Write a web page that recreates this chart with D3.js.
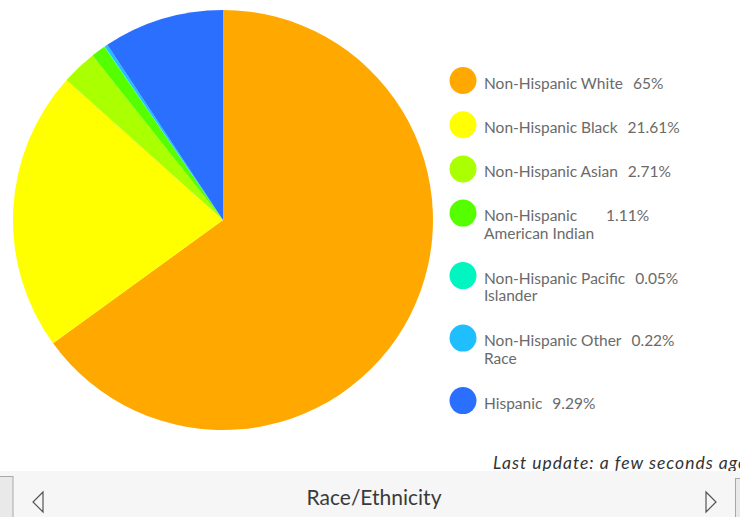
<!DOCTYPE html>
<html>
<head>
<meta charset="utf-8">
<script src="https://cdn.jsdelivr.net/npm/d3@7"></script>
<style>
  html, body { margin: 0; padding: 0; background: #fff; overflow: hidden; }
  svg { display: block; font-family: Lato, "Open Sans", sans-serif; }
</style>
</head>
<body>
<svg id="chart" width="740" height="517"></svg>
<script>
// Population share by race/ethnicity (percent)
const categories = [
  "Non-Hispanic White",
  "Non-Hispanic Black",
  "Non-Hispanic Asian",
  "Non-Hispanic American Indian",
  "Non-Hispanic Pacific Islander",
  "Non-Hispanic Other Race",
  "Hispanic"
];
const values = [65, 21.61, 2.71, 1.11, 0.05, 0.22, 9.29];
const valueLabels = ["65%", "21.61%", "2.71%", "1.11%", "0.05%", "0.22%", "9.29%"];
// how each legend name breaks onto lines
const legendLines = [
  ["Non-Hispanic White"],
  ["Non-Hispanic Black"],
  ["Non-Hispanic Asian"],
  ["Non-Hispanic", "American Indian"],
  ["Non-Hispanic Pacific", "Islander"],
  ["Non-Hispanic Other", "Race"],
  ["Hispanic"]
];
const colors = ["#FFA800", "#FFFF00", "#AAFF00", "#55FF00", "#00F5C0", "#1EBEFF", "#2B6FFF"];
const footerTitle = "Race/Ethnicity";
const updateText = "Last update: a few seconds ago";

const svg = d3.select("#chart");
const color = d3.scaleOrdinal().domain(categories).range(colors);

// ---- pie ----
const cx = 223, cy = 220, radius = 210;
const pie = d3.pie().value(d => d.value).sort(null);
const arc = d3.arc().innerRadius(0).outerRadius(radius);
const data = categories.map((c, i) => ({ name: c, value: values[i] }));

svg.append("g")
  .attr("transform", `translate(${cx},${cy})`)
  .selectAll("path")
  .data(pie(data))
  .join("path")
  .attr("d", arc)
  .attr("fill", d => color(d.data.name));

// ---- legend ----
const legend = svg.append("g").attr("class", "legend");
const lx = 463, tx = 484, lineH = 17.5, gap = 10, wrapLabelW = 112;
let rowY = 80.5;
categories.forEach((c, i) => {
  const g = legend.append("g");
  g.append("circle")
    .attr("cx", lx).attr("cy", rowY).attr("r", 13.5)
    .attr("fill", color(c));
  const t = g.append("text")
    .attr("x", tx).attr("y", rowY + 8)
    .attr("fill", "#6a6a6a")
    .style("font-size", "15.5px");
  legendLines[i].forEach((ln, j) => {
    t.append("tspan").attr("x", tx).attr("dy", j === 0 ? 0 : lineH).text(ln);
  });
  const wrapped = legendLines[i].length > 1;
  const first = t.select("tspan").node().getComputedTextLength();
  const labelW = wrapped ? Math.max(first, wrapLabelW) : first;
  g.append("text")
    .attr("x", tx + labelW + gap)
    .attr("y", rowY + 8)
    .attr("fill", "#6a6a6a")
    .style("font-size", "15.5px")
    .text(valueLabels[i]);
  rowY += wrapped ? 62.5 : 44.2;
});

// ---- last update note ----
svg.append("text")
  .attr("x", 493).attr("y", 468.5)
  .attr("fill", "#333")
  .style("font-size", "17.5px")
  .style("letter-spacing", "1px")
  .style("font-style", "italic")
  .text(updateText);

// ---- footer navigation bar ----
const bar = svg.append("g");
bar.append("rect")
  .attr("x", 0).attr("y", 471).attr("width", 740).attr("height", 46)
  .attr("fill", "#f6f6f6");
bar.append("rect")
  .attr("x", -2).attr("y", 476.5).attr("width", 15).attr("height", 45)
  .attr("fill", "#e9e9e9").attr("stroke", "#a8a8a8").attr("stroke-width", 1);
bar.append("rect")
  .attr("x", 735.5).attr("y", 478.5).attr("width", 15).attr("height", 45)
  .attr("fill", "#e9e9e9").attr("stroke", "#a8a8a8").attr("stroke-width", 1);
bar.append("path")
  .attr("d", "M43,492 L33,502 L43,512 Z")
  .attr("fill", "none").attr("stroke", "#555").attr("stroke-width", 1.2);
bar.append("path")
  .attr("d", "M706,492 L716,502 L706,512 Z")
  .attr("fill", "none").attr("stroke", "#555").attr("stroke-width", 1.2);
bar.append("text")
  .attr("x", 374).attr("y", 505)
  .attr("text-anchor", "middle")
  .attr("fill", "#3a3a3a")
  .style("font-size", "21px")
  .text(footerTitle);
</script>
</body>
</html>
